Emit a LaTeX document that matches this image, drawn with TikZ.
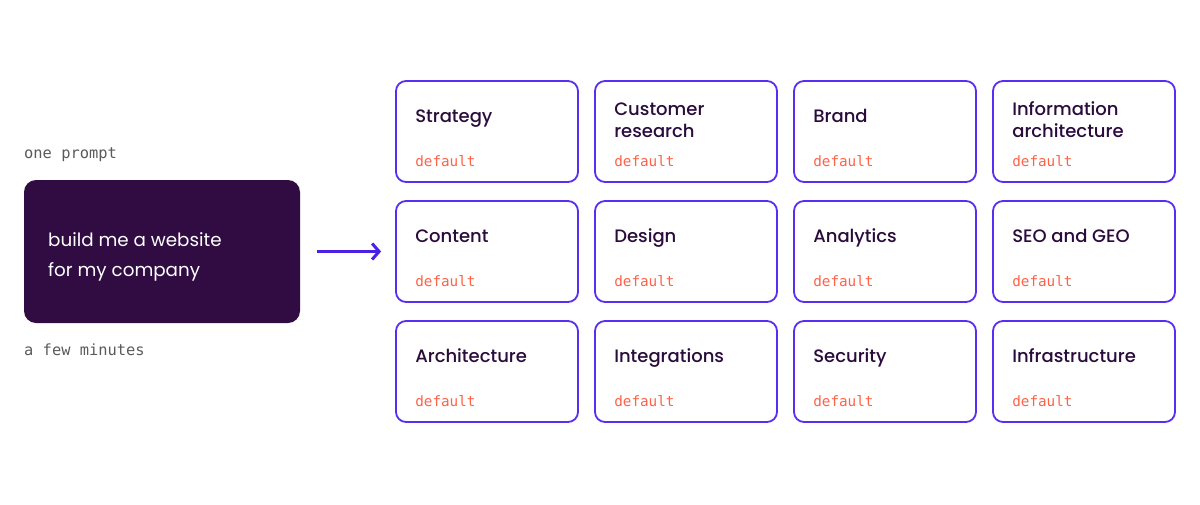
\documentclass[tikz,border=0pt]{standalone}
\usepackage{fontspec}
\setmainfont{Poppins}
\newfontfamily\poppinsmed{Poppins Medium}
\newfontfamily\monofont{DejaVu Sans Mono}
\usetikzlibrary{arrows.meta}
\definecolor{darkbox}{HTML}{310C42}
\definecolor{cardline}{HTML}{5A2EF2}
\definecolor{titlecol}{HTML}{2A0B3C}
\definecolor{defcol}{HTML}{FF6248}
\definecolor{graytxt}{HTML}{5A5A5A}
\definecolor{arrowcol}{HTML}{4A1FE6}
\tikzset{
  card/.style={draw=cardline, line width=1.8pt, rounded corners=10pt, minimum width=182pt, minimum height=101pt, inner sep=0pt, fill=white},
  cardtitle/.style={anchor=base west, inner sep=0pt, text=titlecol, font=\poppinsmed\fontsize{18}{22}\selectfont, align=left},
  deflabel/.style={anchor=base west, inner sep=0pt, text=defcol, font=\monofont\fontsize{14.3}{16}\selectfont},
  sidelabel/.style={anchor=base west, inner sep=0pt, text=graytxt, font=\monofont\fontsize{15.4}{18}\selectfont},
  promptbox/.style={fill=darkbox, rounded corners=12pt, minimum width=276pt, minimum height=143pt, inner sep=0pt},
  prompttext/.style={anchor=base west, inner sep=0pt, text=white, font=\fontsize{18.3}{29.5}\selectfont, align=left},
  flow/.style={draw=arrowcol, line width=3pt, -{Straight Barb[length=7pt,width=16pt,line width=3pt]}}
}
\begin{document}
\begin{tikzpicture}[x=1pt,y=-1pt]
\useasboundingbox (0,0) rectangle (1200,504);
\node[sidelabel] (oneprompt) at (24,158.5) {one prompt};
\node[sidelabel] (fewmin) at (24,355.5) {a few minutes};
\node[promptbox] (prompt) at (162,251.5) {};
\node[prompttext] (ptext) at (48,276) {build me a website\\for my company};
% cards
\foreach \name/\title/\col/\row/\two in {
  strategy/Strategy/0/0/0,
  research/{Customer\\research}/1/0/1,
  brand/Brand/2/0/0,
  infoarch/{Information\\architecture}/3/0/1,
  content/Content/0/1/0,
  design/Design/1/1/0,
  analytics/Analytics/2/1/0,
  seo/SEO and GEO/3/1/0,
  architecture/Architecture/0/2/0,
  integrations/Integrations/1/2/0,
  security/Security/2/2/0,
  infra/Infrastructure/3/2/0} {
  \pgfmathsetmacro{\cx}{487+199*\col}
  \pgfmathsetmacro{\cy}{131.5+120*\row}
  \node[card] (\name) at (\cx,\cy) {};
  \ifnum\two=1
    \node[cardtitle] (\name-t) at ([xshift=20pt,yshift=-57pt]\name.north west) {\title};
  \else
    \node[cardtitle] (\name-t) at ([xshift=20pt,yshift=-42pt]\name.north west) {\title};
  \fi
  \node[deflabel] (\name-d) at ([xshift=20pt,yshift=-86pt]\name.north west) {default};
}
\draw[flow] ([xshift=17pt]prompt.east) -- ([xshift=-14pt]content.west);
\end{tikzpicture}
\end{document}
